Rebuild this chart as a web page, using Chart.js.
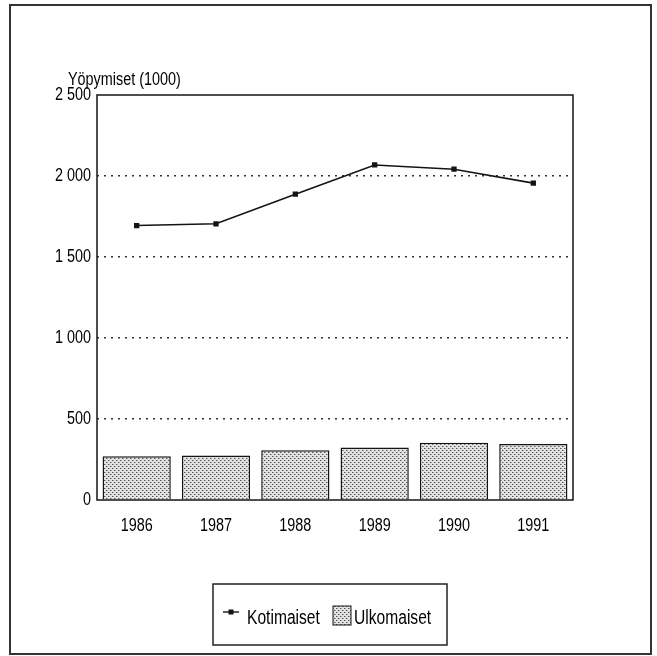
<!DOCTYPE html>
<html><head><meta charset="utf-8">
<script src="https://cdn.jsdelivr.net/npm/chart.js@4/dist/chart.umd.min.js"></script>
<style>html,body{margin:0;padding:0;background:#fff}#wrap{width:657px;height:656px;position:relative}</style>
</head><body><div id="wrap"><canvas id="c" width="657" height="656"></canvas></div>
<script>
const years = ['1986','1987','1988','1989','1990','1991'];
const kotimaiset = [1694, 1705, 1888, 2068, 2042, 1956];
const ulkomaiset = [270, 274, 307, 324, 353, 346];
const yTickLabels = ['0','500','1 000','1 500','2 000','2 500'];
const yTitle = 'Yöpymiset (1000)';
const seriesNames = ['Kotimaiset','Ulkomaiset'];

const FONT = '"Liberation Sans", Arial, sans-serif';
const INK = '#141414';
const TXT = '#000';
const SX = 0.8; // horizontal condensing of all text (narrow typeface look)

function makePattern(){
  const t = document.createElement('canvas');
  t.width = 4; t.height = 4;
  const g = t.getContext('2d');
  g.fillStyle = '#e2e2e2'; g.fillRect(0,0,4,4);
  g.fillStyle = '#555';
  g.fillRect(0,0,1,1); g.fillRect(2,2,1,1);
  g.fillStyle = '#a0a0a0';
  g.fillRect(1,0,1,1); g.fillRect(3,2,1,1);
  return document.getElementById('c').getContext('2d').createPattern(t,'repeat');
}
const pattern = makePattern();

const decor = {
  id: 'decor',
  beforeDraw(chart){
    const ctx = chart.ctx;
    if (!ctx._origFillText){
      const orig = ctx.fillText;
      ctx._origFillText = orig;
      ctx.fillText = function(t, x, y, mw){
        this.save();
        this.translate(x, y);
        this.scale(SX, 1);
        if (mw !== undefined) orig.call(this, t, 0, 0, mw / SX); else orig.call(this, t, 0, 0);
        this.restore();
      };
    }
  },
  afterDraw(chart){
    const ctx = chart.ctx, a = chart.chartArea;
    ctx.save();
    // outer frame
    ctx.strokeStyle = '#333'; ctx.lineWidth = 2;
    ctx.strokeRect(10, 5, 641, 649);
    // plot frame
    ctx.strokeStyle = INK; ctx.lineWidth = 1.5;
    ctx.strokeRect(a.left, a.top, a.right - a.left, a.bottom - a.top);
    // axis title
    ctx.fillStyle = TXT; ctx.font = '18px ' + FONT;
    ctx.textAlign = 'left'; ctx.textBaseline = 'middle';
    ctx.fillText(yTitle, 68, 80);
    // legend
    ctx.lineWidth = 1.5; ctx.strokeStyle = '#222';
    ctx.strokeRect(213, 584, 234, 61);
    ctx.beginPath(); ctx.moveTo(223, 612); ctx.lineTo(239, 612); ctx.stroke();
    ctx.fillStyle = INK; ctx.fillRect(228.5, 609.5, 5, 5);
    ctx.font = '19.5px ' + FONT;
    ctx.fillStyle = TXT;
    ctx.fillText(seriesNames[0], 247, 619);
    ctx.fillStyle = pattern; ctx.fillRect(333, 606, 18, 19);
    ctx.strokeStyle = INK; ctx.lineWidth = 1; ctx.strokeRect(333, 606, 18, 19);
    ctx.fillStyle = TXT;
    ctx.fillText(seriesNames[1], 354, 619);
    ctx.restore();
    if (ctx._origFillText){ ctx.fillText = ctx._origFillText; delete ctx._origFillText; }
  }
};

new Chart(document.getElementById('c'), {
  type: 'bar',
  data: {
    labels: years,
    datasets: [
      {
        type: 'line', label: seriesNames[0], data: kotimaiset, order: 1,
        borderColor: INK, borderWidth: 1.6, pointStyle: 'rect', pointRadius: 2.6,
        pointBackgroundColor: INK, pointBorderColor: INK, tension: 0, fill: false
      },
      {
        type: 'bar', label: seriesNames[1], data: ulkomaiset, order: 2,
        backgroundColor: pattern, borderColor: INK, borderWidth: 1.5,
        barPercentage: 0.86, categoryPercentage: 1.0
      }
    ]
  },
  options: {
    responsive: false, animation: false, devicePixelRatio: 1,
    layout: { padding: { left: 0, top: 95, right: 84, bottom: 116 } },
    plugins: { legend: { display: false }, tooltip: { enabled: false } },
    scales: {
      x: {
        grid: { display: false, drawTicks: false },
        border: { display: false },
        ticks: { color: TXT, font: { family: FONT, size: 18 }, padding: 15 },
        afterFit(s){ s.height = 40; }
      },
      y: {
        min: 0, max: 2500,
        grid: {
          drawTicks: false, lineWidth: 1.5,
          color: (c) => (c.tick && (c.tick.value === 0 || c.tick.value === 2500)) ? 'rgba(0,0,0,0)' : '#333'
        },
        border: { display: false, dash: [2, 5] },
        ticks: {
          stepSize: 500, color: TXT, font: { family: FONT, size: 18 }, padding: 6,
          callback: (v) => yTickLabels[Math.round(v / 500)]
        },
        afterFit(s){ s.width = 97; }
      }
    }
  },
  plugins: [decor]
});
</script>
</body></html>
